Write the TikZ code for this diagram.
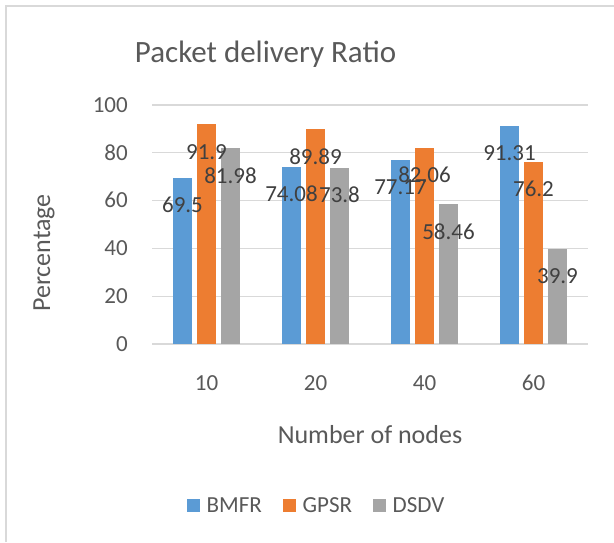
\documentclass[tikz,border=0pt]{standalone}
\usepackage{fontspec}
\setmainfont{Carlito}
\definecolor{cblue}{HTML}{5B9BD5}
\definecolor{corange}{HTML}{ED7D31}
\definecolor{cgray}{HTML}{A5A5A5}
\definecolor{gridc}{HTML}{D9D9D9}
\definecolor{txtc}{HTML}{595959}
\definecolor{lblc}{HTML}{404040}
\begin{document}
\begin{tikzpicture}[x=1pt,y=-1pt,
  ticklbl/.style={text=txtc,font=\fontsize{23}{27}\selectfont,inner sep=0pt},
  barlbl/.style={text=lblc,font=\fontsize{23}{27}\selectfont,inner sep=0pt,anchor=base},
  axtitle/.style={text=txtc,font=\fontsize{26}{30}\selectfont,inner sep=0pt,anchor=base},
  legsq/.style={minimum size=13pt,inner sep=0pt,anchor=center}]
\useasboundingbox (0,0) rectangle (614,542);
\fill[white] (0,0) rectangle (614,542);
\draw[gridc,line width=1.6pt] (6,542) -- (6,6) -- (614,6);
% title
\node[text=txtc,font=\fontsize{31}{36}\selectfont,inner sep=0pt,anchor=base] (title) at (265.5,62) {Packet delivery Ratio};
% gridlines and y tick labels
\foreach \v in {0,20,40,60,80,100}{
  \draw[gridc,line width=1.3pt] (152,{344-2.39*\v}) -- (588,{344-2.39*\v});
  \node[ticklbl,anchor=base east] (yt\v) at (128,{344-2.39*\v+7.2}) {\v};
}
% bars
\foreach \g/\a/\b/\c [count=\i from 0] in {10/69.5/91.9/81.98, 20/74.08/89.89/73.8, 40/77.17/82.06/58.46, 60/91.31/76.2/39.9}{
  \pgfmathsetmacro{\cx}{206.5+109*\i}
  \fill[cblue] ({\cx-24-9.5},344) rectangle ({\cx-24+9.5},{344-2.39*\a});
  \fill[corange] ({\cx-9.5},344) rectangle ({\cx+9.5},{344-2.39*\b});
  \fill[cgray] ({\cx+24-9.5},344) rectangle ({\cx+24+9.5},{344-2.39*\c});
  \node[barlbl] (la\i) at ({\cx-24},{344-2.39*\a+35}) {\a};
  \node[barlbl] (lb\i) at ({\cx},{344-2.39*\b+35}) {\b};
  \node[barlbl] (lc\i) at ({\cx+24},{344-2.39*\c+35}) {\c};
  \node[ticklbl,anchor=base] (xt\i) at (\cx,390.7) {\g};
}
% axis titles
\node[axtitle] (xtitle) at (370,443.3) {Number of nodes};
\node[axtitle,rotate=90] (ytitle) at (50,253) {Percentage};
% legend
\node[legsq,fill=cblue] (sq1) at (193.5,505.5) {};
\node[ticklbl,anchor=base west] (lg1) at (206.5,512.7) {BMFR};
\node[legsq,fill=corange] (sq2) at (289.5,505.5) {};
\node[ticklbl,anchor=base west] (lg2) at (302.5,512.7) {GPSR};
\node[legsq,fill=cgray] (sq3) at (379.5,505.5) {};
\node[ticklbl,anchor=base west] (lg3) at (392.5,512.7) {DSDV};
\end{tikzpicture}
\end{document}
